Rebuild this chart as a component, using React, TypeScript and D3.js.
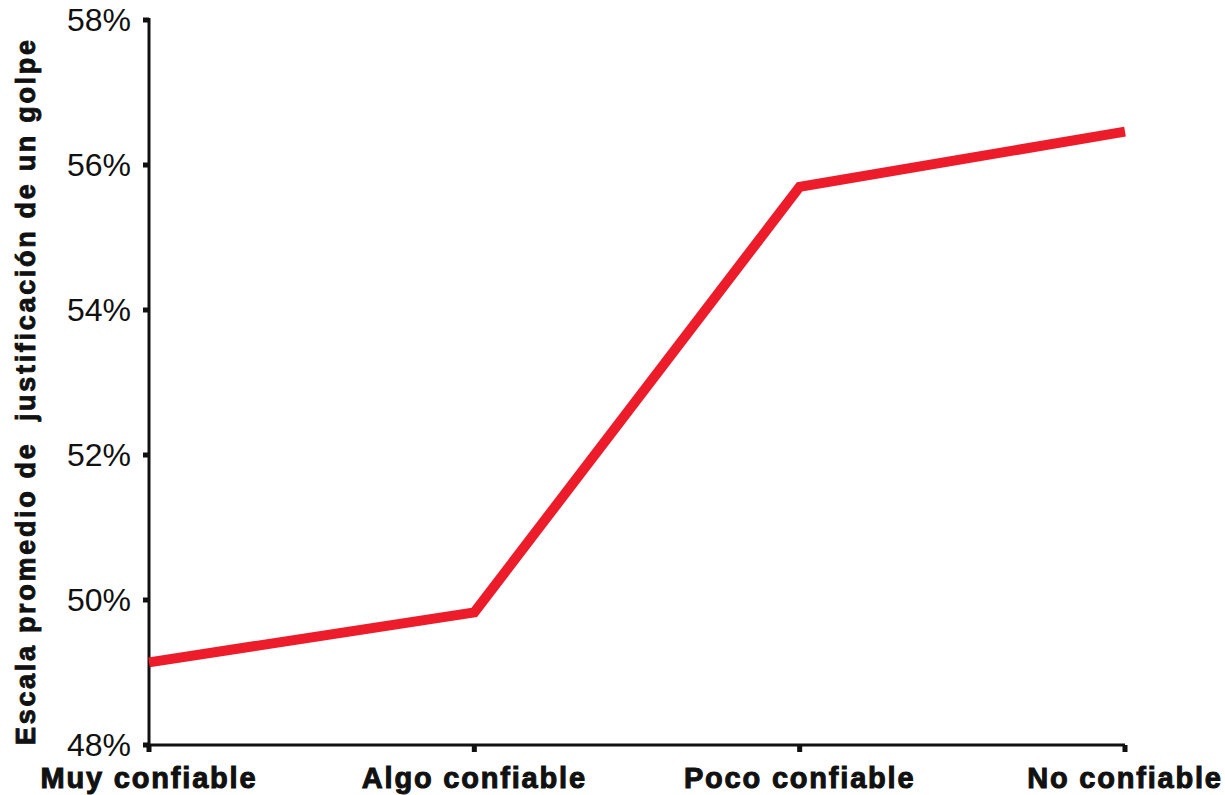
import React from 'react';
import * as d3 from 'd3';

// categories and mean values (percent)
const categories = ['Muy confiable', 'Algo confiable', 'Poco confiable', 'No confiable'];
const values = [49.14, 49.83, 55.7, 56.46];
const yTicks = [48, 50, 52, 54, 56, 58];
const yTitle = 'Escala promedio de  justificación de un golpe';

const W = 1225;
const H = 795;
const margin = { left: 149, right: 100, top: 20, bottom: 50 };

const App: React.FC = () => {
  const x = d3.scalePoint<string>()
    .domain(categories)
    .range([margin.left, W - margin.right]);

  const y = d3.scaleLinear()
    .domain([48, 58])
    .range([H - margin.bottom, margin.top]);

  const line = d3.line<number>()
    .x((_, i) => x(categories[i]) as number)
    .y(d => y(d));

  const y0 = y(48);

  return (
    <svg
      width={W}
      height={H}
      style={{ position: 'absolute', left: 0, top: 0, background: '#fff' }}
      fontFamily="'Liberation Sans', Arial, sans-serif"
    >
      {/* y axis */}
      <line x1={margin.left} x2={margin.left} y1={y(58) - 2} y2={y0} stroke="#111" strokeWidth={3} />
      {yTicks.map(t => (
        <g key={t}>
          <rect x={margin.left - 6} y={y(t) - 2.5} width={6} height={5} fill="#111" />
          <text x={131} y={y(t) + 11} textAnchor="end" fontSize={32} fill="#111">
            {t}%
          </text>
        </g>
      ))}

      {/* x axis */}
      <line x1={margin.left} x2={W - margin.right} y1={y0} y2={y0} stroke="#111" strokeWidth={3} />
      {categories.map(c => (
        <g key={c}>
          <rect x={(x(c) as number) - 2.5} y={y0} width={5} height={7} fill="#111" />
          <text
            x={x(c) as number}
            y={788}
            textAnchor="middle"
            fontSize={29}
            fontWeight="bold"
            letterSpacing={1.8}
            fill="#111"
            stroke="#111"
            strokeWidth={1}
          >
            {c}
          </text>
        </g>
      ))}

      {/* y title */}
      <text
        transform={`translate(35, ${(y0 + 40) / 2}) rotate(-90)`}
        textAnchor="middle"
        fontSize={27}
        fontWeight="bold"
        textLength={705}
        lengthAdjust="spacing"
        fill="#111"
        stroke="#111"
        strokeWidth={0.9}
        style={{ whiteSpace: 'pre' }}
      >
        {yTitle}
      </text>

      {/* data line */}
      <path
        d={line(values) ?? ''}
        fill="none"
        stroke="#ec1c2a"
        strokeWidth={10}
        strokeLinejoin="miter"
      />
    </svg>
  );
};

export default App;
